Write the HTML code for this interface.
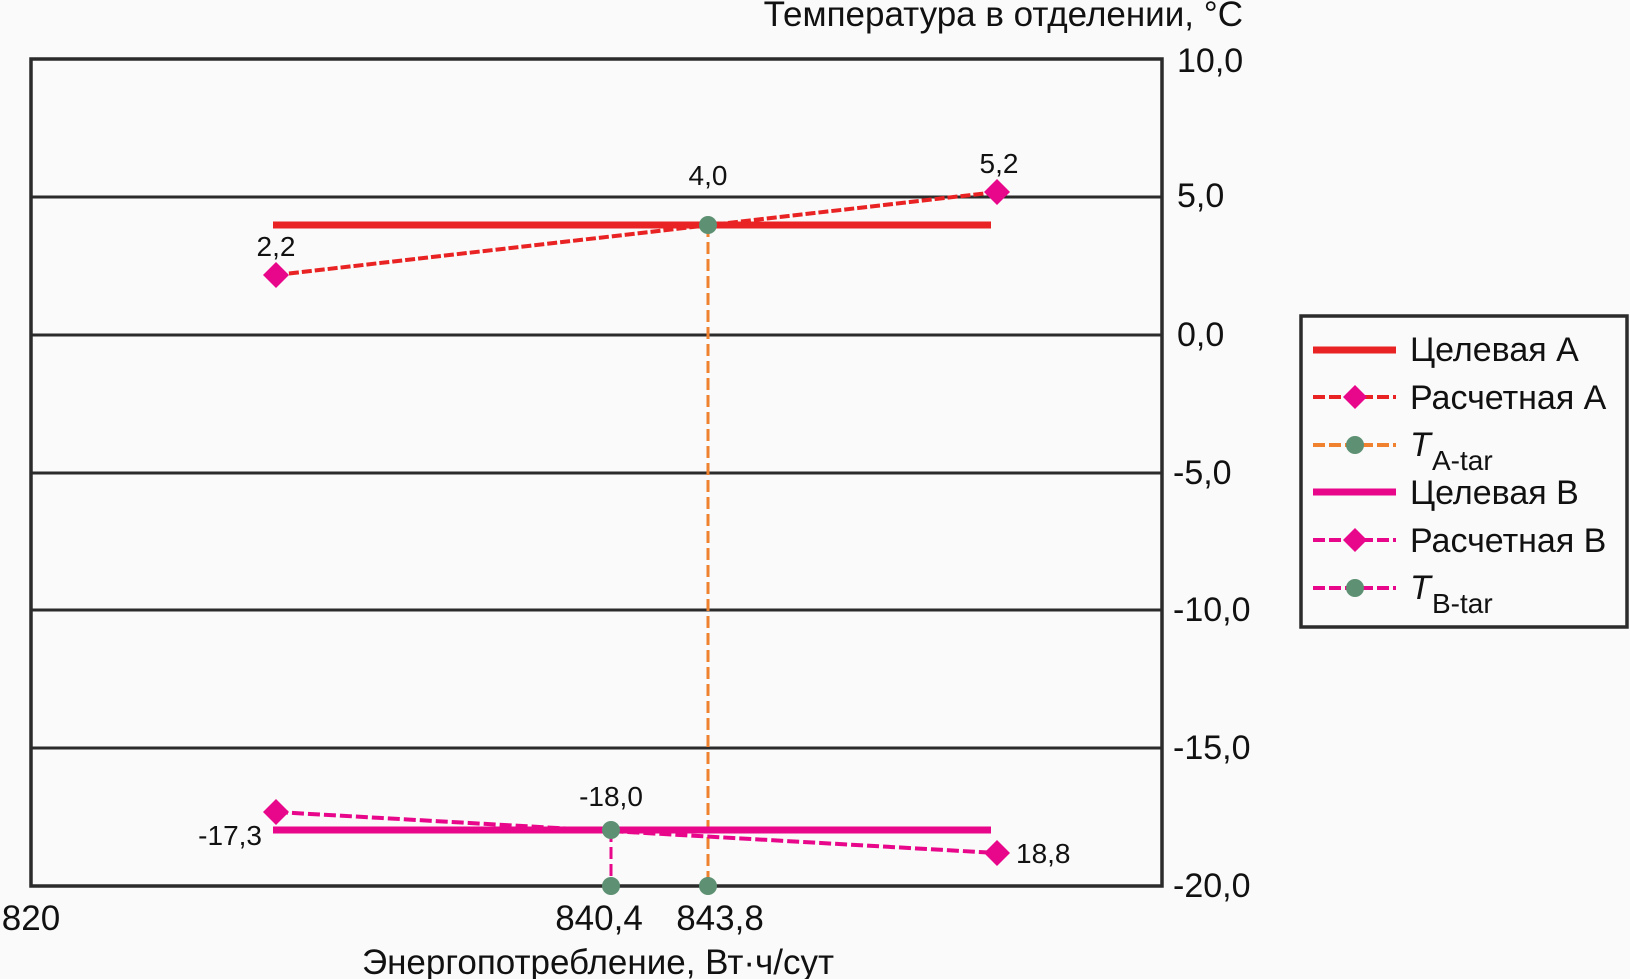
<!DOCTYPE html>
<html><head><meta charset="utf-8"><style>
html,body{margin:0;padding:0;background:#f9faf9;}
svg{display:block;font-family:"Liberation Sans",sans-serif;}
</style></head><body>
<svg width="1630" height="979" viewBox="0 0 1630 979" xmlns="http://www.w3.org/2000/svg">
<rect width="1630" height="979" fill="#f9faf9"/>
<g stroke="#2b2b2b" stroke-width="3">
<line x1="31" y1="197" x2="1162" y2="197"/>
<line x1="31" y1="335" x2="1162" y2="335"/>
<line x1="31" y1="473" x2="1162" y2="473"/>
<line x1="31" y1="610" x2="1162" y2="610"/>
<line x1="31" y1="748" x2="1162" y2="748"/>
<rect x="31" y="59" width="1131" height="827" fill="none" stroke-width="3.5"/>
</g>
<line x1="273" y1="225" x2="991" y2="225" stroke="#e92323" stroke-width="7"/>
<line x1="708" y1="225" x2="708" y2="886" stroke="#f0812f" stroke-width="3" stroke-dasharray="12,5"/>
<line x1="276" y1="275" x2="997" y2="192" stroke="#e92323" stroke-width="4" stroke-dasharray="10,3"/>
<line x1="273" y1="830" x2="991" y2="830" stroke="#e8078a" stroke-width="7"/>
<line x1="611" y1="830" x2="611" y2="886" stroke="#e8078a" stroke-width="3" stroke-dasharray="12,5"/>
<line x1="276" y1="812" x2="997" y2="853" stroke="#e8078a" stroke-width="4" stroke-dasharray="12,4"/>
<g fill="#e8078a">
<polygon points="276,262 289,275 276,288 263,275"/>
<polygon points="997,179 1010,192 997,205 984,192"/>
<polygon points="276,799 289,812 276,825 263,812"/>
<polygon points="997,840 1010,853 997,866 984,853"/>
</g>
<g fill="#5e9173">
<circle cx="708" cy="225" r="9"/>
<circle cx="611" cy="830" r="9"/>
<circle cx="611" cy="886" r="9"/>
<circle cx="708" cy="886" r="9"/>
</g>
<g font-size="28" fill="#111">
<text x="276" y="256" text-anchor="middle">2,2</text>
<text x="708" y="185" text-anchor="middle">4,0</text>
<text x="999" y="173" text-anchor="middle">5,2</text>
<text x="611" y="806" text-anchor="middle">-18,0</text>
<text x="262" y="845" text-anchor="end">-17,3</text>
<text x="1016" y="863">18,8</text>
</g>
<g font-size="34" fill="#111">
<text x="1177" y="72">10,0</text>
<text x="1177" y="207">5,0</text>
<text x="1177" y="346">0,0</text>
<text x="1173" y="484">-5,0</text>
<text x="1173" y="621">-10,0</text>
<text x="1173" y="759">-15,0</text>
<text x="1173" y="897">-20,0</text>
</g>
<g font-size="35" fill="#111">
<text x="31" y="930" text-anchor="middle">820</text>
<text x="599" y="930" text-anchor="middle">840,4</text>
<text x="720" y="930" text-anchor="middle">843,8</text>
<text x="1243" y="26" text-anchor="end">Температура в отделении, °С</text>
<text x="598" y="974" text-anchor="middle">Энергопотребление, Вт·ч/сут</text>
</g>
<rect x="1301" y="316" width="326" height="311" fill="#f9faf9" stroke="#2b2b2b" stroke-width="3.5"/>
<line x1="1313" y1="350" x2="1396" y2="350" stroke="#e92323" stroke-width="7"/>
<line x1="1313" y1="397" x2="1396" y2="397" stroke="#e92323" stroke-width="4" stroke-dasharray="12,4"/>
<polygon points="1355,385 1367,397 1355,409 1343,397" fill="#e8078a"/>
<line x1="1313" y1="445" x2="1396" y2="445" stroke="#f0812f" stroke-width="4" stroke-dasharray="12,4"/>
<circle cx="1355" cy="445" r="9" fill="#5e9173"/>
<line x1="1313" y1="492" x2="1396" y2="492" stroke="#e8078a" stroke-width="7"/>
<line x1="1313" y1="540" x2="1396" y2="540" stroke="#e8078a" stroke-width="4" stroke-dasharray="12,4"/>
<polygon points="1355,528 1367,540 1355,552 1343,540" fill="#e8078a"/>
<line x1="1313" y1="588" x2="1396" y2="588" stroke="#e8078a" stroke-width="4" stroke-dasharray="12,4"/>
<circle cx="1355" cy="588" r="9" fill="#5e9173"/>
<g font-size="34" fill="#111">
<text x="1410" y="361">Целевая А</text>
<text x="1410" y="409">Расчетная А</text>
<text x="1410" y="456" font-style="italic">T</text>
<text x="1432" y="470" font-size="28">A-tar</text>
<text x="1410" y="504">Целевая В</text>
<text x="1410" y="552">Расчетная В</text>
<text x="1410" y="599" font-style="italic">T</text>
<text x="1432" y="613" font-size="28">B-tar</text>
</g>
</svg>
</body></html>
